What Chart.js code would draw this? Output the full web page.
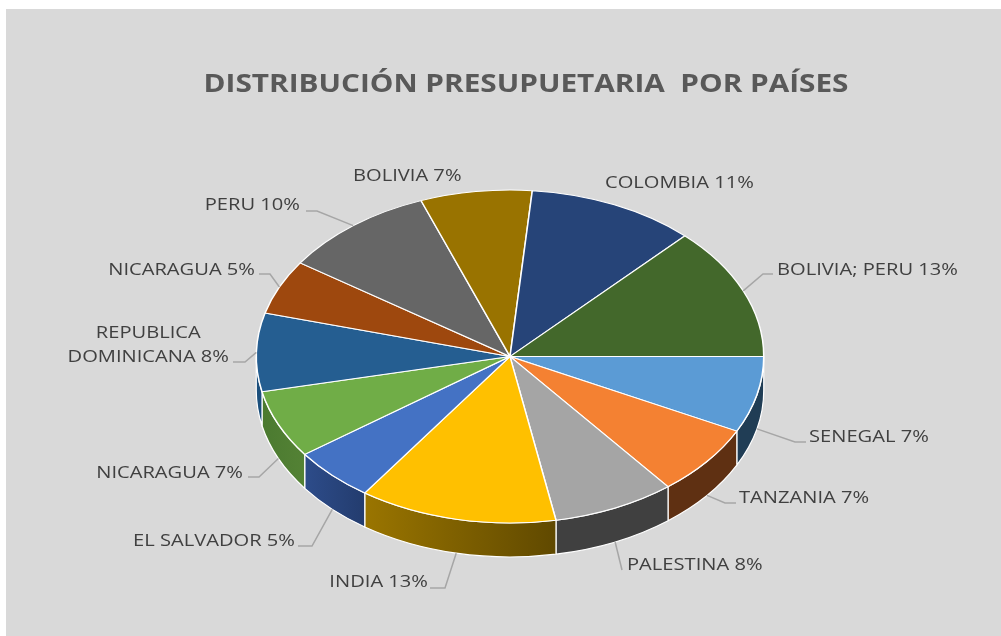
<!DOCTYPE html>
<html>
<head>
<meta charset="utf-8">
<title>Distribución presupuetaria por países</title>
<script src="https://cdn.jsdelivr.net/npm/chart.js@4"></script>
<style>
    html, body { margin: 0; padding: 0; background: #ffffff; }
    canvas { display: block; }
</style>
</head>
<body>
<canvas id="budgetChart" width="1001" height="636"></canvas>
<script>
const chartTitle = 'DISTRIBUCIÓN PRESUPUETARIA  POR PAÍSES';
const countries = ['SENEGAL', 'TANZANIA', 'PALESTINA', 'INDIA', 'EL SALVADOR', 'NICARAGUA',
    'REPUBLICA DOMINICANA', 'NICARAGUA', 'PERU', 'BOLIVIA', 'COLOMBIA', 'BOLIVIA; PERU'];
// slice sizes as measured on the picture, the labels show them rounded
const shares = [7.4, 6.9, 7.8, 12.6, 5.3, 6.6, 7.6, 5.3, 9.8, 7.1, 10.7, 12.9];
const percentLabels = ['7%', '7%', '8%', '13%', '5%', '7%', '8%', '5%', '10%', '7%', '11%', '13%'];
const sliceColors = ['#5B9BD5', '#F48132', '#A5A5A5', '#FFC000', '#4472C4', '#70AD47',
    '#255E91', '#9E480E', '#666666', '#997300', '#264478', '#43682B'];
const wallColorsLeft = ['#203D55', '#5F3012', '#404040', '#9A7500', '#2D4C8A', '#4B7A30',
    '#1B4F7C', '#5F3012', '#404040', '#604900', '#1A2E52', '#2C451C'];
const wallColorsRight = ['#203D55', '#5F3012', '#404040', '#604900', '#233C6E', '#548235',
    '#1B4F7C', '#5F3012', '#404040', '#604900', '#1A2E52', '#2C451C'];

// pie is squashed to an ellipse and extruded downwards
const squash = 0.656;
const depth = 34;
const textColor = '#404040';
const labelFont = '16.5px "Open Sans"';
const labelStretch = 1.22; // the reference text is wider than any installed font
const titleStretch = 1.19;

// where each label sits: text anchor, text alignment and the bend of its leader line
const labelLayout = [
    { x: 809, y: 437, align: 'left', leader: [[795, 442], [806, 442]] },
    { x: 739, y: 498, align: 'left', leader: [[725, 503], [736, 503]] },
    { x: 627, y: 565, align: 'left', leader: [[622, 570]] },
    { x: 428, y: 582, align: 'right', leader: [[445, 588], [430, 588]] },
    { x: 295, y: 541, align: 'right', leader: [[312, 546], [298, 546]] },
    { x: 243, y: 473, align: 'right', leader: [[259, 477], [248, 477]] },
    { x: 229, y: 357, align: 'right', leader: [[245, 362], [233, 362]] },
    { x: 255, y: 270, align: 'right', leader: [[270, 274], [259, 274]] },
    { x: 300, y: 205, align: 'right', leader: [[317, 211], [306, 211]] },
    { x: 353, y: 176, align: 'left', leader: null },
    { x: 605, y: 183, align: 'left', leader: null },
    { x: 777, y: 270, align: 'left', leader: [[763, 274], [773, 274]] }
];

function stretchedText(ctx, text, x, y, stretch) {
    ctx.save();
    ctx.translate(x, y);
    ctx.scale(stretch, 1);
    ctx.fillText(text, 0, 0);
    ctx.restore();
}

const panelPlugin = {
    id: 'panel',
    beforeDraw(chart) {
        const ctx = chart.ctx;
        ctx.save();
        ctx.fillStyle = '#D9D9D9';
        ctx.fillRect(6, 9, chart.width - 6, chart.height - 9);
        ctx.fillStyle = '#595959';
        ctx.font = 'bold 25px "Open Sans"';
        ctx.textAlign = 'center';
        ctx.textBaseline = 'middle';
        stretchedText(ctx, chartTitle, 526, 85, titleStretch);
        ctx.restore();
    }
};

const pie3dPlugin = {
    id: 'pie3d',
    beforeDatasetsDraw(chart) {
        const ctx = chart.ctx;
        const arcs = chart.getDatasetMeta(0).data;
        ctx.save();
        arcs.forEach((arc, i) => {
            const start = Math.max(arc.startAngle, 0);
            const end = Math.min(arc.endAngle, Math.PI);
            if (end <= start) return;
            const rx = arc.outerRadius;
            const ry = rx * squash;
            const leftX = arc.x + rx * Math.cos(end);
            const rightX = arc.x + rx * Math.cos(start);
            const fill = ctx.createLinearGradient(leftX, 0, rightX, 0);
            fill.addColorStop(0, wallColorsLeft[i]);
            fill.addColorStop(1, wallColorsRight[i]);
            ctx.beginPath();
            ctx.ellipse(arc.x, arc.y + depth, rx, ry, 0, start, end);
            ctx.ellipse(arc.x, arc.y, rx, ry, 0, end, start, true);
            ctx.closePath();
            ctx.fillStyle = fill;
            ctx.fill();
            ctx.strokeStyle = '#ffffff';
            ctx.lineWidth = 1.2;
            ctx.stroke();
        });
        ctx.restore();
        // top face: the normal arcs drawn through a flattened context
        const first = arcs[0];
        ctx.save();
        ctx.translate(first.x, first.y);
        ctx.scale(1, squash);
        ctx.translate(-first.x, -first.y);
    },
    afterDatasetsDraw(chart) {
        chart.ctx.restore();
        drawLabels(chart);
    }
};

function drawLabels(chart) {
    const ctx = chart.ctx;
    const arcs = chart.getDatasetMeta(0).data;
    ctx.save();
    ctx.font = labelFont;
    ctx.textBaseline = 'middle';
    arcs.forEach((arc, i) => {
        const place = labelLayout[i];
        const mid = (arc.startAngle + arc.endAngle) / 2;
        if (place.leader) {
            const sin = Math.sin(mid);
            const startX = arc.x + arc.outerRadius * Math.cos(mid);
            const startY = arc.y + arc.outerRadius * squash * sin + (sin > 0.1 ? depth : 0);
            ctx.beginPath();
            ctx.moveTo(startX, startY);
            place.leader.forEach(p => ctx.lineTo(p[0], p[1]));
            ctx.strokeStyle = '#A6A6A6';
            ctx.lineWidth = 1.5;
            ctx.stroke();
        }
        ctx.fillStyle = textColor;
        ctx.textAlign = place.align;
        const text = countries[i] + ' ' + percentLabels[i];
        if (countries[i] === 'REPUBLICA DOMINICANA') {
            // two centred lines in the original
            const lineTwo = 'DOMINICANA ' + percentLabels[i];
            const width = ctx.measureText(lineTwo).width * labelStretch;
            stretchedText(ctx, lineTwo, place.x, place.y, labelStretch);
            ctx.textAlign = 'center';
            stretchedText(ctx, 'REPUBLICA', place.x - width / 2, place.y - 24, labelStretch);
        } else {
            stretchedText(ctx, text, place.x, place.y, labelStretch);
        }
    });
    ctx.restore();
}

new Chart(document.getElementById('budgetChart'), {
    type: 'pie',
    data: {
        labels: countries,
        datasets: [{
            data: shares,
            backgroundColor: sliceColors,
            borderColor: '#ffffff',
            borderWidth: 1.5
        }]
    },
    options: {
        responsive: false,
        animation: false,
        rotation: 90,
        layout: { padding: { left: 255.5, right: 236.5, top: 102, bottom: 25 } },
        plugins: {
            legend: { display: false },
            tooltip: { enabled: false }
        }
    },
    plugins: [panelPlugin, pie3dPlugin]
});
</script>
</body>
</html>
